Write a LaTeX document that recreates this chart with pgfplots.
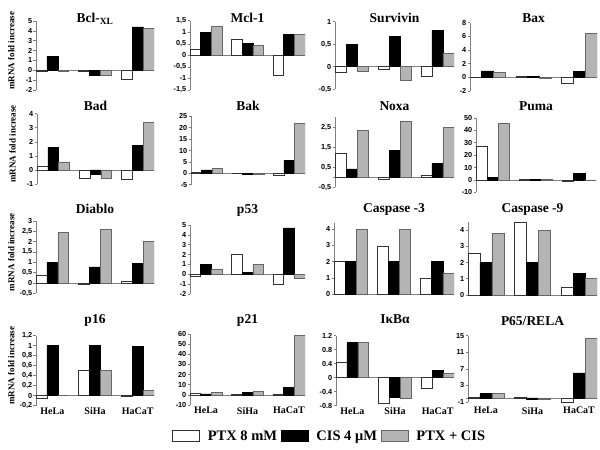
\documentclass[border=0pt]{standalone}
\usepackage{fontspec}
\setmainfont{Liberation Serif}
\newfontfamily\arialf{Liberation Sans}
\usepackage{pgfplots}
\pgfplotsset{compat=1.18}
\newcommand\tickfont{\arialf\bfseries\fontsize{7.3}{8}\selectfont}
\newcommand\titfont{\bfseries\fontsize{13.5}{15}\selectfont}
\newcommand\labfont{\bfseries\fontsize{10}{11}\selectfont}
\newcommand\ylabfont{\bfseries\fontsize{9}{10}\selectfont}
\newcommand\legfont{\bfseries\fontsize{14.5}{16}\selectfont}
\definecolor{barg}{RGB}{180,180,180}
\definecolor{axg}{RGB}{128,128,128}
\pgfplotsset{
  mini/.style={
    scale only axis, anchor=north west,
    xmin=-0.385, xmax=2.385,
    axis y line*=left, axis x line*=bottom,
    x axis line style={draw=none},
    y axis line style={axg, line width=0.6pt, -},
    xtick={0,1,2}, xticklabels={}, xtick style={draw=none},
    ytick align=outside, ytick style={axg, line width=0.6pt}, major tick length=2.5pt,
    yticklabel style={font=\tickfont, inner sep=1pt},
    xticklabel style={font=\labfont, inner sep=2pt},
    /pgf/number format/use comma, /pgf/number format/assume math mode=true, /pgf/number format/1000 sep={},
    bar width=0.256,
    extra y ticks={0}, extra y tick labels={},
    extra y tick style={grid=major, major grid style={axg, line width=0.6pt}},
    every axis title/.style={at={(0.5,1)}, anchor=base, font=\titfont},
    every axis y label/.style={at={(axis description cs:-0.21,0.57)}, rotate=90, anchor=center, font=\ylabfont},
  },
  wb/.style={ybar, fill=white, draw=black!80, line width=0.6pt, bar shift=-0.256},
  kb/.style={ybar, fill=black, draw=black, line width=0.6pt, bar shift=0},
  gb/.style={ybar, fill=barg, draw=black!60, line width=0.6pt, bar shift=0.256},
}
\begin{document}
\begin{tikzpicture}
\path[use as bounding box] (0pt,0pt) rectangle (600pt,-450pt);
% ---------- Row 1
\begin{axis}[mini, at={(36pt,-21pt)}, width=118pt, height=69pt, ymin=-2, ymax=5, ytick={-2,-1,0,1,2,3,4,5},
  title={Bcl-\textsubscript{XL}}, title style={yshift=-1pt}, ylabel={mRNA fold increase}]
\addplot[wb] coordinates {(0,-0.15) (1,-0.15) (2,-0.9)};
\addplot[kb] coordinates {(0,1.4) (1,-0.55) (2,4.4)};
\addplot[gb] coordinates {(0,-0.1) (1,-0.55) (2,4.25)};
\end{axis}
\begin{axis}[mini, at={(190pt,-20.7pt)}, width=115pt, height=69.3pt, ymin=-1.5, ymax=1.5, ytick={-1.5,-1,-0.5,0,0.5,1,1.5},
  title={Mcl-1}, title style={yshift=-1.3pt}]
\addplot[wb] coordinates {(0,0.25) (1,0.68) (2,-0.87)};
\addplot[kb] coordinates {(0,1.0) (1,0.53) (2,0.92)};
\addplot[gb] coordinates {(0,1.25) (1,0.42) (2,0.92)};
\end{axis}
\begin{axis}[mini, at={(335pt,-21.7pt)}, width=119pt, height=67.6pt, ymin=-0.5, ymax=1, ytick={-0.5,0,0.5,1},
  title={Survivin}, title style={yshift=-0.3pt}]
\addplot[wb] coordinates {(0,-0.12) (1,-0.06) (2,-0.22)};
\addplot[kb] coordinates {(0,0.5) (1,0.68) (2,0.8)};
\addplot[gb] coordinates {(0,-0.1) (1,-0.3) (2,0.3)};
\end{axis}
\begin{axis}[mini, at={(470pt,-22.7pt)}, width=127pt, height=68.3pt, ymin=-2, ymax=8, ytick={-2,0,2,4,6,8},
  title={Bax}, title style={yshift=0.7pt}]
\addplot[wb] coordinates {(0,0.05) (1,0.15) (2,-0.8)};
\addplot[kb] coordinates {(0,0.95) (1,0.1) (2,0.9)};
\addplot[gb] coordinates {(0,0.7) (1,-0.2) (2,6.4)};
\end{axis}
% ---------- Row 2
\begin{axis}[mini, at={(37pt,-113.7pt)}, width=117pt, height=70.3pt, ymin=-1, ymax=4, ytick={-1,0,1,2,3,4},
  title={Bad}, title style={yshift=3.7pt}, ylabel={mRNA fold increase}]
\addplot[wb] coordinates {(0,0.25) (1,-0.6) (2,-0.7)};
\addplot[kb] coordinates {(0,1.62) (1,-0.33) (2,1.72)};
\addplot[gb] coordinates {(0,0.57) (1,-0.57) (2,3.4)};
\end{axis}
\begin{axis}[mini, at={(191pt,-116.3pt)}, width=114pt, height=68.4pt, ymin=-5, ymax=25, ytick={-5,0,5,10,15,20,25},
  title={Bak}, title style={yshift=6.3pt}]
\addplot[wb] coordinates {(0,0.6) (1,-0.2) (2,-0.7)};
\addplot[kb] coordinates {(0,1.5) (1,-0.3) (2,5.5)};
\addplot[gb] coordinates {(0,2.0) (1,-0.3) (2,22)};
\end{axis}
\begin{axis}[mini, at={(335pt,-117pt)}, width=119pt, height=70.3pt, ymin=-0.5, ymax=3, ytick={-0.5,0.5,1.5,2.5},
  title={Noxa}, title style={yshift=7pt}]
\addplot[wb] coordinates {(0,1.2) (1,-0.1) (2,0.12)};
\addplot[kb] coordinates {(0,0.42) (1,1.35) (2,0.68)};
\addplot[gb] coordinates {(0,2.35) (1,2.8) (2,2.48)};
\end{axis}
\begin{axis}[mini, at={(476pt,-118pt)}, width=120pt, height=74.3pt, ymin=-10, ymax=50, ytick={-10,0,10,20,30,40,50},
  title={Puma}, title style={yshift=8pt}]
\addplot[wb] coordinates {(0,27) (1,0.2) (2,-0.8)};
\addplot[kb] coordinates {(0,2) (1,0.3) (2,5.5)};
\addplot[gb] coordinates {(0,45.5) (1,0.8) (2,-0.5)};
\end{axis}
% ---------- Row 3
\begin{axis}[mini, at={(36pt,-221pt)}, width=118pt, height=72.3pt, ymin=-0.5, ymax=3, ytick={-0.5,0,0.5,1,1.5,2,2.5,3},
  title={Diablo}, title style={yshift=8pt}, ylabel={mRNA fold increase}]
\addplot[wb] coordinates {(0,0.35) (1,-0.08) (2,0.1)};
\addplot[kb] coordinates {(0,1.0) (1,0.78) (2,0.94)};
\addplot[gb] coordinates {(0,2.45) (1,2.58) (2,2.0)};
\end{axis}
\begin{axis}[mini, at={(190pt,-225pt)}, width=115pt, height=69pt, ymin=-2, ymax=5, ytick={-2,-1,0,1,2,3,4,5},
  title={p53}, title style={yshift=12pt}]
\addplot[wb] coordinates {(0,-0.25) (1,2.0) (2,-1.0)};
\addplot[kb] coordinates {(0,1.0) (1,0.2) (2,4.7)};
\addplot[gb] coordinates {(0,0.55) (1,1.0) (2,-0.45)};
\end{axis}
\begin{axis}[mini, at={(334pt,-222.8pt)}, width=120pt, height=71.2pt, ymin=0, ymax=4.4, ytick={0,1,2,3,4},
  title={Caspase -3}, title style={yshift=10.8pt}]
\addplot[wb] coordinates {(0,2.0) (1,2.95) (2,0.95)};
\addplot[kb] coordinates {(0,2.0) (1,2.0) (2,2.0)};
\addplot[gb] coordinates {(0,4.0) (1,4.0) (2,1.25)};
\end{axis}
\begin{axis}[mini, at={(468pt,-222pt)}, width=129pt, height=73pt, ymin=0, ymax=4.5, ytick={0,1,2,3,4},
  title={Caspase -9}, title style={yshift=10pt}]
\addplot[wb] coordinates {(0,2.6) (1,4.5) (2,0.5)};
\addplot[kb] coordinates {(0,2.0) (1,2.0) (2,1.35)};
\addplot[gb] coordinates {(0,3.8) (1,4.0) (2,1.0)};
\end{axis}
% ---------- Row 4
\begin{axis}[mini, at={(36pt,-335.7pt)}, width=118pt, height=70pt, ymin=-0.2, ymax=1.2, ytick={-0.2,0,0.2,0.4,0.6,0.8,1,1.2},
  title={p16}, title style={yshift=12.7pt}, ylabel={mRNA fold increase}, xticklabels={HeLa,SiHa,HaCaT}]
\addplot[wb] coordinates {(0,-0.05) (1,0.5) (2,-0.02)};
\addplot[kb] coordinates {(0,1.0) (1,1.0) (2,0.98)};
\addplot[gb] coordinates {(0,0) (1,0.5) (2,0.1)};
\end{axis}
\begin{axis}[mini, at={(190pt,-334pt)}, width=115pt, height=71pt, ymin=-10, ymax=60, ytick={-10,0,10,20,30,40,50,60},
  title={p21}, title style={yshift=11pt}, xticklabels={HeLa,SiHa,HaCaT},
  legend columns=3,
  legend style={at={(1.215,-0.437)}, anchor=center, draw=none, fill=none, font=\legfont,
    /tikz/every even column/.append style={column sep=2pt}},
  legend image code/.code={\draw[#1, line width=0.8pt] (0pt,-5.5pt) rectangle (27pt,5.5pt); \path[draw=none, fill=none] (27pt,0pt) -- (33pt,0pt);}]
\addplot[wb] coordinates {(0,1.5) (1,0.5) (2,0.3)};
\addplot[kb] coordinates {(0,1.0) (1,2.5) (2,7.5)};
\addplot[gb] coordinates {(0,2.5) (1,4) (2,59)};
\legend{PTX 8 mM, CIS 4 μM, PTX + CIS}
\end{axis}
\begin{axis}[mini, at={(336pt,-335.7pt)}, width=118pt, height=70pt, ymin=-0.8, ymax=1.2, ytick={-0.8,-0.4,0,0.4,0.8,1.2},
  /pgf/number format/use period,
  title={IκBα}, title style={yshift=12.7pt}, xticklabels={HeLa,SiHa,HaCaT}]
\addplot[wb] coordinates {(0,0.44) (1,-0.72) (2,-0.3)};
\addplot[kb] coordinates {(0,1.0) (1,-0.57) (2,0.2)};
\addplot[gb] coordinates {(0,1.0) (1,-0.6) (2,0.14)};
\end{axis}
\begin{axis}[mini, at={(468pt,-335.7pt)}, width=129pt, height=66.3pt, ymin=-1, ymax=15, ytick={-1,3,7,11,15},
  title={P65/RELA}, title style={yshift=10.7pt}, xticklabels={HeLa,SiHa,HaCaT}, xticklabel style={yshift=-3pt}]
\addplot[wb] coordinates {(0,0.05) (1,0.2) (2,-1.0)};
\addplot[kb] coordinates {(0,1.0) (1,-0.45) (2,6.0)};
\addplot[gb] coordinates {(0,1.0) (1,-0.4) (2,14.3)};
\end{axis}
\end{tikzpicture}
\end{document}
